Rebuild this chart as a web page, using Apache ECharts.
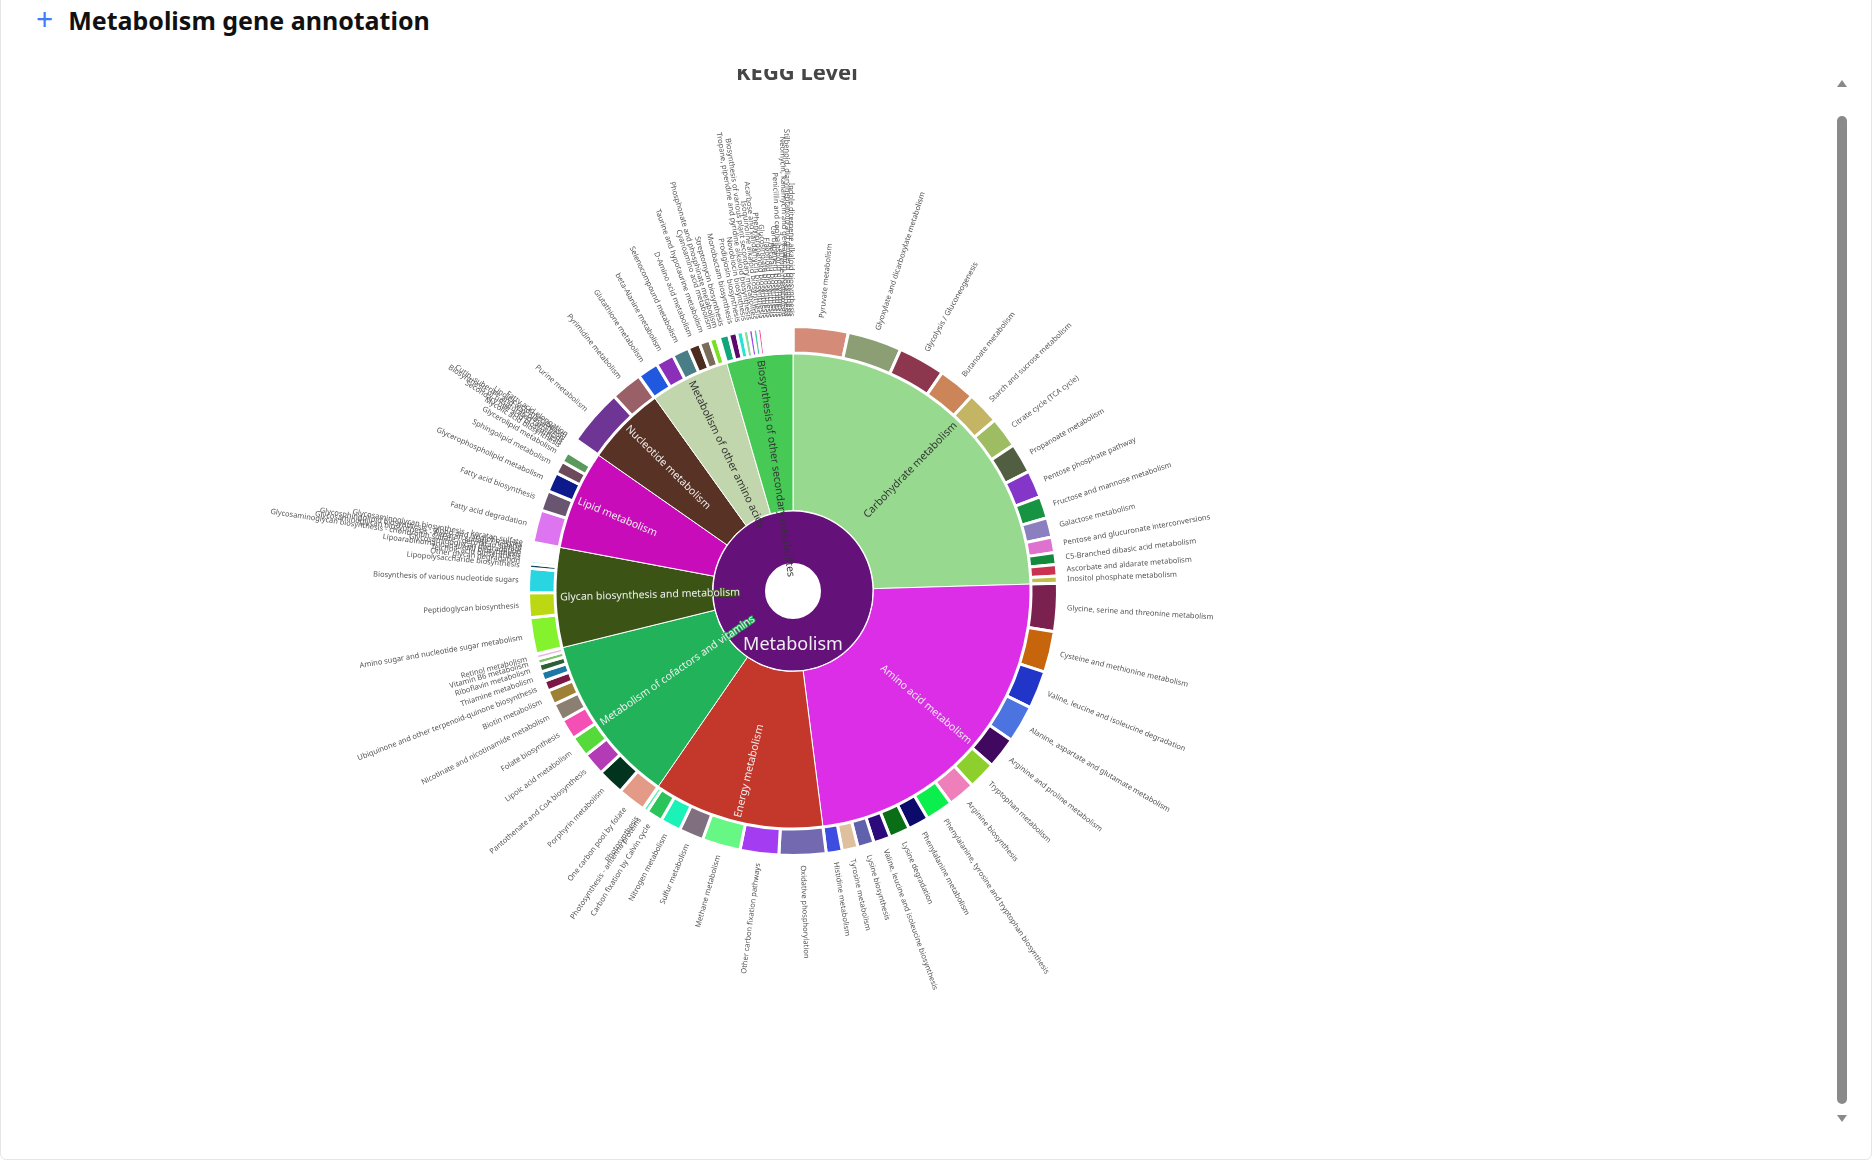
<!DOCTYPE html>
<html>
<head>
<meta charset="utf-8">
<script src="https://cdn.jsdelivr.net/npm/echarts@6/dist/echarts.min.js"></script>
<style>
    html, body { margin: 0; padding: 0; background: #fff; width: 1875px; height: 1170px; overflow: hidden; font-family: 'Noto Sans', sans-serif; }
    #card { position: absolute; left: 0; top: -10px; width: 1872px; height: 1170px; border: 1px solid #e6e6e6; border-radius: 6px; box-sizing: border-box; }
    #head { position: absolute; left: 36px; top: 1px; height: 36px; line-height: 36px; font-size: 25px; font-weight: bold; color: #111; }
    #head span { color: #3f7ef5; font-weight: normal; font-size: 30px; margin-right: 15px; }
    #clip { position: absolute; left: 0; top: 69px; width: 1830px; height: 1088px; overflow: hidden; }
    #chart { position: absolute; left: 0; top: -69px; width: 1830px; height: 1170px; }
    #thumb { position: absolute; left: 1837px; top: 116px; width: 10px; height: 988px; border-radius: 5px; background: #8a8a8a; }
    .arrow { position: absolute; left: 1837px; width: 0; height: 0; border-left: 5px solid transparent; border-right: 5px solid transparent; }
    #up { top: 80px; border-bottom: 7px solid #8a8a8a; }
    #down { top: 1115px; border-top: 7px solid #8a8a8a; }
</style>
</head>
<body>
<div id="card"></div>
<div id="head"><span>+</span>Metabolism gene annotation</div>
<div id="clip"><div id="chart"></div></div>
<div id="up" class="arrow"></div>
<div id="thumb"></div>
<div id="down" class="arrow"></div>
<script>
// KEGG level 2 categories
const categories = ['Carbohydrate metabolism', 'Amino acid metabolism', 'Energy metabolism',
    'Metabolism of cofactors and vitamins', 'Glycan biosynthesis and metabolism', 'Lipid metabolism',
    'Nucleotide metabolism', 'Metabolism of other amino acids', 'Biosynthesis of other secondary metabolites'];
const categoryValues = [1766, 1688, 836, 832, 488, 486, 389, 388, 324];
const categoryColors = ['#97da8f', '#db2ee6', '#c4372b', '#22b35a', '#3b5416', '#c90cb9', '#573225', '#c2d6ad', '#47c955'];

// KEGG level 3 pathways
const carbohydrateNames = ['Pyruvate metabolism', 'Glyoxylate and dicarboxylate metabolism', 'Glycolysis / Gluconeogenesis',
    'Butanoate metabolism', 'Starch and sucrose metabolism', 'Citrate cycle (TCA cycle)', 'Propanoate metabolism',
    'Pentose phosphate pathway', 'Fructose and mannose metabolism', 'Galactose metabolism',
    'Pentose and glucuronate interconversions', 'C5-Branched dibasic acid metabolism',
    'Ascorbate and aldarate metabolism', 'Inositol phosphate metabolism'];
const carbohydrateValues = [242, 238, 206, 164, 144, 136, 132, 120, 96, 86, 68, 52, 50, 32];
const carbohydrateColors = ['#d48c78', '#8c9e74', '#8c374e', '#cc8559', '#c4b564', '#9ebd63', '#515e41',
    '#8436c8', '#169442', '#8c7fbf', '#e072cf', '#128a3c', '#c93350', '#c0c048'];

const aminoNames = ['Glycine, serine and threonine metabolism', 'Cysteine and methionine metabolism',
    'Valine, leucine and isoleucine degradation', 'Alanine, aspartate and glutamate metabolism',
    'Arginine and proline metabolism', 'Tryptophan metabolism', 'Arginine biosynthesis',
    'Phenylalanine, tyrosine and tryptophan biosynthesis', 'Phenylalanine metabolism', 'Lysine degradation',
    'Valine, leucine and isoleucine biosynthesis', 'Lysine biosynthesis', 'Tyrosine metabolism', 'Histidine metabolism'];
const aminoValues = [210, 180, 166, 164, 138, 122, 120, 120, 92, 90, 74, 72, 70, 70];
const aminoColors = ['#7a2150', '#c7650c', '#2235c9', '#4c74e0', '#410860', '#8dcf2c', '#ee7fba',
    '#0bef4c', '#0c0a6b', '#0a6e17', '#2c0a7c', '#5f61ad', '#dfc09e', '#3d4ddf'];

const energyNames = ['Oxidative phosphorylation', 'Other carbon fixation pathways', 'Methane metabolism',
    'Sulfur metabolism', 'Nitrogen metabolism', 'Carbon fixation by Calvin cycle',
    'Photosynthesis - antenna proteins', 'Photosynthesis'];
const energyValues = [206, 170, 168, 108, 90, 72, 20, 2];
const energyColors = ['#7369b0', '#a43df2', '#66f784', '#80707f', '#1bf2b8', '#2bc45a', '#52f0a6', '#b4e0c8'];

const cofactorNames = ['One carbon pool by folate', 'Porphyrin metabolism', 'Pantothenate and CoA biosynthesis',
    'Lipoic acid metabolism', 'Folate biosynthesis', 'Nicotinate and nicotinamide metabolism', 'Biotin metabolism',
    'Ubiquinone and other terpenoid-quinone biosynthesis', 'Thiamine metabolism', 'Riboflavin metabolism',
    'Vitamin B6 metabolism', 'Retinol metabolism'];
const cofactorValues = [124, 116, 100, 92, 90, 78, 64, 46, 42, 34, 24, 20];
const cofactorColors = ['#e39a86', '#02331f', '#b33bb5', '#56d93b', '#f44fb4', '#8b7f72', '#9e8136',
    '#7a1744', '#1d78a3', '#2d5e36', '#7cc36a', '#e8b4e6'];

const glycanNames = ['Amino sugar and nucleotide sugar metabolism', 'Peptidoglycan biosynthesis',
    'Biosynthesis of various nucleotide sugars', 'Lipopolysaccharide biosynthesis', 'Other glycan degradation',
    'Teichoic acid biosynthesis', 'Lipoarabinomannan (LAM) biosynthesis', 'Glycosaminoglycan degradation',
    'Glycosaminoglycan biosynthesis - chondroitin sulfate / dermatan sulfate',
    'Glycosaminoglycan biosynthesis - heparan sulfate / heparin',
    'Glycosphingolipid biosynthesis - globo and isoglobo series',
    'Glycosaminoglycan biosynthesis - keratan sulfate'];
const glycanValues = [160, 108, 106, 20, 16, 11, 11, 11, 11, 10, 10, 10];
const glycanColors = ['#84f22d', '#bcd813', '#2ad5e2', '#0f4a55', '#b9e6f2', '#d7c9f0', '#f0d0a0',
    '#a0c0e0', '#e0a0c0', '#c0e0a0', '#a0e0d0', '#e0e0a0'];

const lipidNames = ['Fatty acid degradation', 'Fatty acid biosynthesis', 'Glycerophospholipid metabolism',
    'Sphingolipid metabolism', 'Glycerolipid metabolism', 'Mycolic acid biosynthesis',
    'Secondary bile acid biosynthesis', 'Biosynthesis of unsaturated fatty acids',
    'Cutin, suberine and wax biosynthesis', 'Linoleic acid metabolism', 'Fatty acid elongation'];
const lipidValues = [144, 88, 86, 56, 46, 12, 12, 11, 11, 10, 10];
const lipidColors = ['#dd74f0', '#685570', '#0d1a8c', '#6c4a5a', '#5a9a5c', '#c0a0e0', '#a0c0a0',
    '#e0c0a0', '#a0a0e0', '#c0e0e0', '#e0a0a0'];

const nucleotideNames = ['Purine metabolism', 'Pyrimidine metabolism'];
const nucleotideValues = [250, 138];
const nucleotideColors = ['#6e3595', '#9a6068'];

const otherAminoNames = ['Glutathione metabolism', 'beta-Alanine metabolism', 'Selenocompound metabolism',
    'D-Amino acid metabolism', 'Taurine and hypotaurine metabolism', 'Cyanoamino acid metabolism',
    'Phosphonate and phosphinate metabolism'];
const otherAminoValues = [92, 80, 74, 52, 46, 32, 12];
const otherAminoColors = ['#2059e0', '#8b2eb8', '#4a7e86', '#4c2c1c', '#7a6c58', '#78e020', '#b0b0b0'];

const secondaryNames = ['Streptomycin biosynthesis', 'Monobactam biosynthesis', 'Prodigiosin biosynthesis',
    'Novobiocin biosynthesis', 'Tropane, piperidine and pyridine alkaloid biosynthesis',
    'Biosynthesis of various plant secondary metabolites', 'Isoquinoline alkaloid biosynthesis',
    'Acarbose and validamycin biosynthesis', 'Phenylpropanoid biosynthesis', 'Glucosinolate biosynthesis',
    'Flavonoid biosynthesis', 'Betalain biosynthesis', 'Carbapenem biosynthesis',
    'Penicillin and cephalosporin biosynthesis', 'Caffeine metabolism',
    'Neomycin, kanamycin and gentamicin biosynthesis', 'Stilbenoid, diarylheptanoid and gingerol biosynthesis',
    'Indole diterpene alkaloid biosynthesis'];
const secondaryValues = [42, 36, 28, 24, 20, 20, 18, 14, 14, 14, 13, 13, 12, 12, 11, 11, 11, 11];
const secondaryColors = ['#10a67a', '#5a0a6a', '#22e6d0', '#8fd99a', '#9c4cf0', '#48c9a8', '#f04c9c',
    '#c0c0f0', '#f0c0c0', '#c0f0c0', '#f0f0c0', '#c0f0f0', '#f0c0f0', '#d0d0d0', '#e0c0a0', '#a0c0e0',
    '#c0a0e0', '#a0e0c0'];

const pathwayNames = [carbohydrateNames, aminoNames, energyNames, cofactorNames, glycanNames, lipidNames,
    nucleotideNames, otherAminoNames, secondaryNames];
const pathwayValues = [carbohydrateValues, aminoValues, energyValues, cofactorValues, glycanValues, lipidValues,
    nucleotideValues, otherAminoValues, secondaryValues];
const pathwayColors = [carbohydrateColors, aminoColors, energyColors, cofactorColors, glycanColors, lipidColors,
    nucleotideColors, otherAminoColors, secondaryColors];

function buildTree() {
    return [{
        name: 'Metabolism',
        itemStyle: { color: '#65117a' },
        children: categories.map(function (name, i) {
            return {
                name: name,
                value: categoryValues[i],
                itemStyle: { color: categoryColors[i] },
                children: pathwayNames[i].map(function (p, j) {
                    return { name: p, value: pathwayValues[i][j], itemStyle: { color: pathwayColors[i][j] } };
                })
            };
        })
    }];
}

const chart = echarts.init(document.getElementById('chart'));

chart.setOption({
    animation: false,
    textStyle: { fontFamily: 'Noto Sans' },
    title: {
        text: 'KEGG Level',
        left: 731,
        top: 58,
        textStyle: { fontSize: 22, fontWeight: 'bold', color: '#464646' }
    },
    series: [{
        type: 'sunburst',
        center: [793, 591],
        radius: [27, 264.5],
        startAngle: 90,
        sort: null,
        nodeClick: false,
        data: buildTree(),
        levels: [
            {},
            {
                r0: 27, r: 80.5,
                itemStyle: { borderWidth: 2, borderColor: '#fff' },
                label: { rotate: 0, fontSize: 18, position: 'inside' }
            },
            {
                r0: 80.5, r: 238,
                itemStyle: { borderWidth: 1, borderColor: '#fff' },
                label: { rotate: 'radial', align: 'right', fontSize: 10.5, distance: 5 }
            },
            {
                r0: 238, r: 264.5,
                itemStyle: { borderWidth: 3, borderColor: '#fff' },
                label: { rotate: 'radial', position: 'outside', fontSize: 7.5, color: '#555', distance: 10 }
            }
        ]
    }]
});
</script>
</body>
</html>
